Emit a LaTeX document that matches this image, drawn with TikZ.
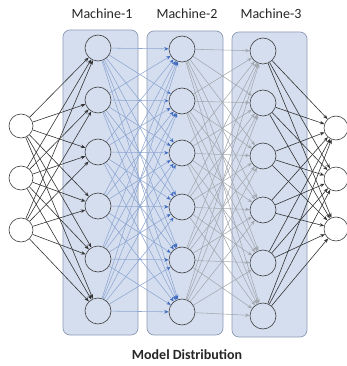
\documentclass[tikz,border=0pt]{standalone}
\usepackage{fontspec}
\setmainfont{Carlito}
\usetikzlibrary{arrows.meta}
\pgfdeclarelayer{boxes}
\pgfdeclarelayer{links}
\pgfsetlayers{boxes,links,main}
\definecolor{boxfill}{HTML}{D5DEEF}
\definecolor{boxline}{HTML}{8C9AB4}
\definecolor{linkblue}{HTML}{8EA6D2}
\definecolor{headblue}{HTML}{3F6CC0}
\definecolor{linkgray}{HTML}{A3A7AE}
\tikzset{
  machine/.style={draw=boxline, fill=boxfill, rounded corners=7pt, line width=0.7pt},
  neuron/.style={circle, draw=black!75, line width=0.6pt, minimum size=26pt, inner sep=0pt, fill=boxfill},
  ioneuron/.style={circle, draw=black!75, line width=0.6pt, minimum size=24pt, inner sep=0pt, fill=white},
  inlink/.style={draw=black!80, line width=0.6pt, -{Stealth[length=4.5pt,width=3.5pt]}},
  bluelink/.style={draw=linkblue, line width=0.55pt, -{Stealth[length=4.5pt,width=3.5pt,color=headblue]}},
  graylink/.style={draw=linkgray, line width=0.55pt, -{Stealth[length=4.5pt,width=3.5pt]}},
  outlink/.style={draw=black!80, line width=0.6pt, -{Stealth[length=4.5pt,width=3.5pt]}},
  label/.style={font=\fontsize{14}{16}\selectfont, text=black!85},
  caption/.style={font=\bfseries\fontsize{14}{16}\selectfont, text=black!85}
}
\begin{document}
\begin{tikzpicture}[x=1pt,y=-1pt]
\useasboundingbox (0,0) rectangle (346,366);
% machine partitions
\begin{pgfonlayer}{boxes}
\draw[machine] (63,30) rectangle (138,335);
\draw[machine] (147,31) rectangle (223,335);
\draw[machine] (232,32) rectangle (307,337);
\end{pgfonlayer}
% titles
\node[label] (t1) at (102,14) {Machine-1};
\node[label] (t2) at (187,14) {Machine-2};
\node[label] (t3) at (271,14) {Machine-3};
\node[caption] (cap) at (187,355) {Model Distribution};
% input layer
\foreach \i/\y in {1/126,2/178,3/230}
  \node[ioneuron] (in\i) at (21,\y) {};
% hidden layers
\foreach \i/\y in {1/48,2/100,3/152,4/206,5/259,6/311}
  \node[neuron] (a\i) at (98,\y) {};
\foreach \i/\y in {1/49,2/101,3/153,4/207,5/260,6/312}
  \node[neuron] (b\i) at (182,\y) {};
\foreach \i/\y in {1/51,2/103,3/156,4/210,5/263,6/316}
  \node[neuron] (c\i) at (263,\y) {};
% output layer
\foreach \i/\y in {1/128,2/179,3/229}
  \node[ioneuron] (out\i) at (336,\y) {};
% connections
\begin{pgfonlayer}{links}
\foreach \i in {1,2,3}
  \foreach \j in {1,...,6}
    \draw[inlink] (in\i) -- (a\j);
\foreach \i in {1,...,6}
  \foreach \j in {1,...,6}
    \draw[bluelink] (a\i) -- (b\j);
\foreach \i in {1,...,6}
  \foreach \j in {1,...,6}
    \draw[graylink] (b\i) -- (c\j);
\foreach \i in {1,...,6}
  \foreach \j in {1,2,3}
    \draw[outlink] (c\i) -- (out\j);
\end{pgfonlayer}
\end{tikzpicture}
\end{document}
